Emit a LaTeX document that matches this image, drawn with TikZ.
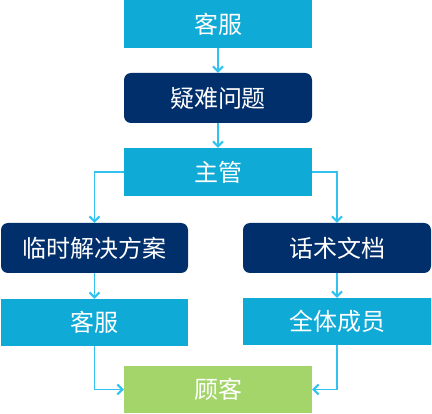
\documentclass[tikz,border=0pt]{standalone}
\usepackage{fontspec}
\setmainfont{Noto Sans CJK SC}
\usetikzlibrary{arrows.meta}
\definecolor{lblue}{HTML}{0FAAD6}
\definecolor{navy}{HTML}{002F6C}
\definecolor{lgreen}{HTML}{A3D56A}
\definecolor{arr}{HTML}{33C2F0}
\tikzset{
  box/.style={rectangle, inner sep=0pt, text=white, font=\fontsize{24}{29}\selectfont},
  bluebox/.style={box, fill=lblue},
  navybox/.style={box, fill=navy, rounded corners=7pt},
  greenbox/.style={box, fill=lgreen},
  conn/.style={draw=arr, line width=1.1pt, -{Straight Barb[length=5pt,width=10pt,line width=2pt]}}
}
\begin{document}
\begin{tikzpicture}[x=1pt,y=-1pt]
\useasboundingbox (0,0) rectangle (432,414);
\node[bluebox, minimum width=188pt, minimum height=48pt] (top) at (218,24) {客服};
\node[navybox, minimum width=188pt, minimum height=50pt] (q) at (218,98) {疑难问题};
\node[bluebox, minimum width=188pt, minimum height=48pt] (m) at (218,172) {主管};
\node[navybox, minimum width=187pt, minimum height=50pt] (L) at (94.5,248) {临时解决方案};
\node[navybox, minimum width=188pt, minimum height=50pt] (R) at (337,248) {话术文档};
\node[bluebox, minimum width=187pt, minimum height=47pt] (L2) at (94.5,322.5) {客服};
\node[bluebox, minimum width=188pt, minimum height=47pt] (R2) at (337,321.5) {全体成员};
\node[greenbox, minimum width=188pt, minimum height=47pt] (C) at (218,389.5) {顾客};
\draw[conn] (top.south) -- (q.north);
\draw[conn] (q.south) -- (m.north);
\draw[conn] (m.west) -| (L.north);
\draw[conn] (m.east) -| (R.north);
\draw[conn] (L.south) -- (L2.north);
\draw[conn] (R.south) -- (R2.north);
\draw[conn] (L2.south) |- (C.west);
\draw[conn] (R2.south) |- (C.east);
\end{tikzpicture}
\end{document}
